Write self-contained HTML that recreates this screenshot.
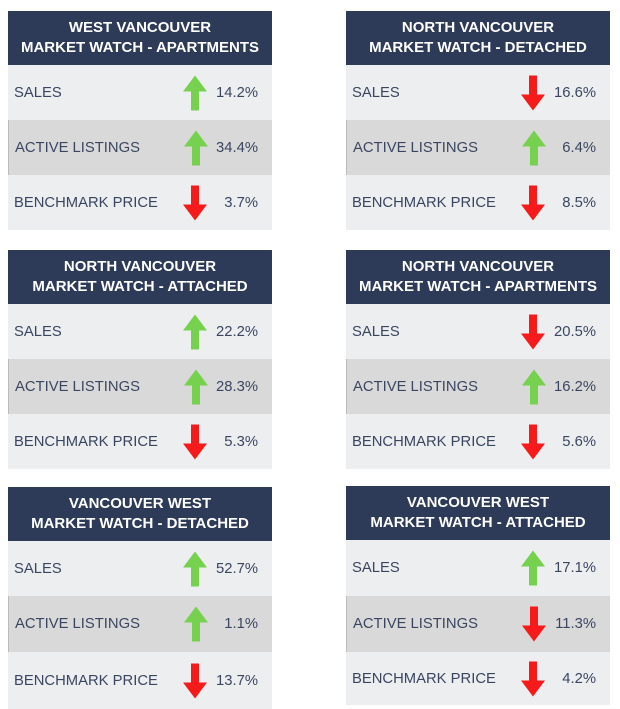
<!DOCTYPE html>
<html><head><meta charset="utf-8"><style>
body{margin:0;width:620px;height:709px;background:#fff;position:relative;overflow:hidden;font-family:"Liberation Sans",sans-serif}
.card{position:absolute;width:264px}
.hd{background:#2d3a58;color:#fff;font-weight:bold;font-size:15px;text-align:center;line-height:20px;height:54px;box-sizing:border-box;padding-top:7px}
.r{height:55px;background:#eceef0;position:relative;color:#3a4660;font-size:14.8px}
.r.m{background:#d9d9d9;border-left:1px solid #bbb}
.r .l{position:absolute;left:6px;top:50%;transform:translateY(-50%)}
.r .v{position:absolute;right:14px;top:50%;transform:translateY(-50%)}
.r svg{position:absolute;left:175px;top:50%;transform:translateY(-50%)}
</style></head><body>
<svg width="0" height="0" style="position:absolute"><defs>
<g id="up"><polygon points="12,0 24,16 16,16 16,35 8,35 8,16 0,16" fill="#76d14f"/></g>
<g id="dn"><polygon points="8,0 16,0 16,19 24,19 12,35 0,19 8,19" fill="#f71a1a"/></g>
</defs></svg>

<div class="card" style="left:8px;top:11px">
<div class="hd">WEST VANCOUVER<br>MARKET WATCH - APARTMENTS</div>
<div class="r"><span class="l">SALES</span><svg width="24" height="35"><use href="#up"/></svg><span class="v">14.2%</span></div>
<div class="r m"><span class="l">ACTIVE LISTINGS</span><svg width="24" height="35"><use href="#up"/></svg><span class="v">34.4%</span></div>
<div class="r"><span class="l">BENCHMARK PRICE</span><svg width="24" height="35"><use href="#dn"/></svg><span class="v">3.7%</span></div>
</div>

<div class="card" style="left:346px;top:11px">
<div class="hd">NORTH VANCOUVER<br>MARKET WATCH - DETACHED</div>
<div class="r"><span class="l">SALES</span><svg width="24" height="35"><use href="#dn"/></svg><span class="v">16.6%</span></div>
<div class="r m"><span class="l">ACTIVE LISTINGS</span><svg width="24" height="35"><use href="#up"/></svg><span class="v">6.4%</span></div>
<div class="r"><span class="l">BENCHMARK PRICE</span><svg width="24" height="35"><use href="#dn"/></svg><span class="v">8.5%</span></div>
</div>

<div class="card" style="left:8px;top:250px">
<div class="hd">NORTH VANCOUVER<br>MARKET WATCH - ATTACHED</div>
<div class="r"><span class="l">SALES</span><svg width="24" height="35"><use href="#up"/></svg><span class="v">22.2%</span></div>
<div class="r m"><span class="l">ACTIVE LISTINGS</span><svg width="24" height="35"><use href="#up"/></svg><span class="v">28.3%</span></div>
<div class="r"><span class="l">BENCHMARK PRICE</span><svg width="24" height="35"><use href="#dn"/></svg><span class="v">5.3%</span></div>
</div>

<div class="card" style="left:346px;top:250px">
<div class="hd">NORTH VANCOUVER<br>MARKET WATCH - APARTMENTS</div>
<div class="r"><span class="l">SALES</span><svg width="24" height="35"><use href="#dn"/></svg><span class="v">20.5%</span></div>
<div class="r m"><span class="l">ACTIVE LISTINGS</span><svg width="24" height="35"><use href="#up"/></svg><span class="v">16.2%</span></div>
<div class="r"><span class="l">BENCHMARK PRICE</span><svg width="24" height="35"><use href="#dn"/></svg><span class="v">5.6%</span></div>
</div>

<div class="card" style="left:8px;top:487px">
<div class="hd">VANCOUVER WEST<br>MARKET WATCH - DETACHED</div>
<div class="r"><span class="l">SALES</span><svg width="24" height="35"><use href="#up"/></svg><span class="v">52.7%</span></div>
<div class="r m" style="height:56px"><span class="l">ACTIVE LISTINGS</span><svg width="24" height="35"><use href="#up"/></svg><span class="v">1.1%</span></div>
<div class="r" style="height:57px"><span class="l">BENCHMARK PRICE</span><svg width="24" height="35"><use href="#dn"/></svg><span class="v">13.7%</span></div>
</div>

<div class="card" style="left:346px;top:486px">
<div class="hd">VANCOUVER WEST<br>MARKET WATCH - ATTACHED</div>
<div class="r" style="height:56px"><span class="l">SALES</span><svg width="24" height="35"><use href="#up"/></svg><span class="v">17.1%</span></div>
<div class="r m" style="height:56px"><span class="l">ACTIVE LISTINGS</span><svg width="24" height="35"><use href="#dn"/></svg><span class="v">11.3%</span></div>
<div class="r" style="height:53px"><span class="l">BENCHMARK PRICE</span><svg width="24" height="35"><use href="#dn"/></svg><span class="v">4.2%</span></div>
</div>
</body></html>
